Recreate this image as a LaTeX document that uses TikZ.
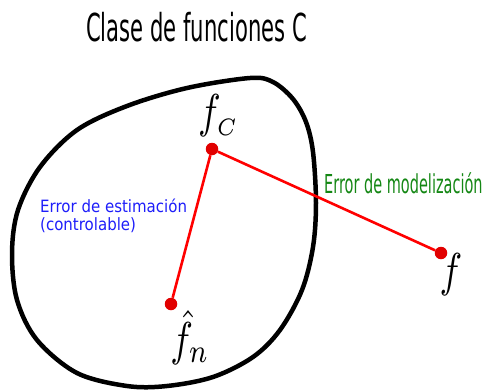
\documentclass[tikz,border=0pt]{standalone}
\usepackage{fontspec}
\newfontfamily\dejavu{DejaVu Sans}
\definecolor{dotred}{RGB}{225,0,0}
\definecolor{linered}{RGB}{255,0,0}
\definecolor{estblue}{RGB}{30,30,250}
\definecolor{modgreen}{RGB}{20,135,20}
\begin{document}
\begin{tikzpicture}[x=1pt,y=-1pt,
  dot/.style={circle, fill=dotred, inner sep=0pt, minimum size=12.5pt},
  link/.style={draw=linered, line width=2.6pt},
  mathlbl/.style={inner sep=0pt},
  txt/.style={inner sep=0pt}
]
\useasboundingbox (0,0) rectangle (485,389);
\draw[line width=4.5pt] plot[smooth cycle, tension=0.55] coordinates {
  (250,78) (273,82) (293,99) (306,122) (313,152) (316,203) (313,247) (302,290)
  (280,330) (253,357) (213,377) (167,386) (127,386) (77,373) (37,340)
  (17,300) (12,253) (18,210) (40,167) (77,130) (127,106) (187,88)};
\node[dot] (fc) at (212,149) {};
\node[dot] (fn) at (171,304) {};
\node[dot] (f) at (441,253) {};
\draw[link] (fc) -- (fn);
\draw[link] (fc) -- (f);
\node[txt, anchor=base] (title) at (196.5,41)
  {\scalebox{0.96}[1.75]{\fontsize{22}{26}\dejavu Clase de funciones C}};
\node[txt, anchor=base west, text=modgreen] (mod) at (324,193.3)
  {\scalebox{0.906}[1.63]{\fontsize{16}{19}\dejavu Error de modelización}};
\node[txt, anchor=base west, text=estblue] (est) at (40,212.3)
  {\scalebox{1}[1.13]{\fontsize{15}{16}\dejavu\selectfont\begin{tabular}[t]{@{}l@{}}Error de estimación\\(controlable)\end{tabular}}};
\node[mathlbl] (lfc) at (218.5,116) {\scalebox{3.8}[4.75]{$f_{\scriptscriptstyle C}$}};
\node[mathlbl] (lfn) at (190,337.5) {\scalebox{3.8}[4.75]{$\hat{f}_n$}};
\node[mathlbl] (lf) at (451,275) {\scalebox{3.8}[4.75]{$f$}};
\end{tikzpicture}
\end{document}
